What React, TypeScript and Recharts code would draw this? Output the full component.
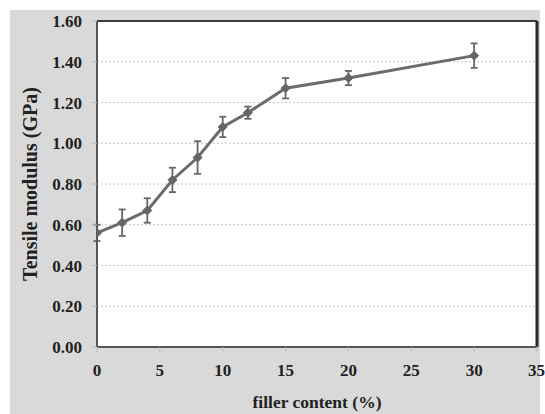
import React from 'react';
import { ComposedChart, Line, XAxis, YAxis, CartesianGrid, ErrorBar, ReferenceLine } from 'recharts';

const fillerContent = [0, 2, 4, 6, 8, 10, 12, 15, 20, 30];
const modulus = [0.56, 0.61, 0.67, 0.82, 0.93, 1.08, 1.15, 1.27, 1.32, 1.43];
const modulusError = [0.04, 0.065, 0.06, 0.06, 0.08, 0.05, 0.03, 0.05, 0.035, 0.06];
const xTicks = [0, 5, 10, 15, 20, 25, 30, 35];
const yTicks = [0, 0.2, 0.4, 0.6, 0.8, 1.0, 1.2, 1.4, 1.6];

const data = fillerContent.map((x, i) => ({ x, y: modulus[i], err: modulusError[i] }));

const FONT = '"Liberation Serif", "Times New Roman", serif';
const tickStyle = { fontFamily: FONT, fontSize: 17, fontWeight: 700, fill: '#222' };

const Diamond = (props: any) => {
  const { cx, cy } = props;
  if (cx == null || cy == null) return null;
  const r = 4.5;
  return (
    <polygon
      points={`${cx},${cy - r} ${cx + r},${cy} ${cx},${cy + r} ${cx - r},${cy}`}
      fill="#666"
      stroke="#666"
    />
  );
};

export default function App() {
  return (
    <div style={{ position: 'absolute', left: 0, top: 0, width: 545, height: 414 }}>
      <div style={{ position: 'absolute', left: 10, top: 10, width: 530, height: 404, background: '#d9d9d9' }} />
      <div style={{ position: 'absolute', left: 0, top: 0 }}>
        <ComposedChart width={545} height={414} data={data} margin={{ top: 21, right: 8, bottom: 27, left: 0 }}>
          <CartesianGrid fill="#fff" vertical={false} stroke="#c4c4c4" strokeDasharray="2 2" />
          <XAxis
            dataKey="x"
            type="number"
            domain={[0, 35]}
            ticks={xTicks}
            height={40}
            tick={tickStyle}
            tickSize={5}
            tickMargin={12}
            tickLine={{ stroke: '#bbb' }}
            axisLine={{ stroke: '#555', strokeWidth: 2 }}
            allowDataOverflow
            label={{ value: 'filler content (%)', position: 'bottom', offset: 9, style: { ...tickStyle, fontSize: 17.5 } }}
          />
          <YAxis
            type="number"
            domain={[0, 1.6]}
            ticks={yTicks}
            width={97}
            tick={tickStyle}
            tickSize={6}
            tickMargin={9}
            tickLine={{ stroke: '#bbb' }}
            axisLine={{ stroke: '#555', strokeWidth: 2 }}
            tickFormatter={(v: number) => v.toFixed(2)}
            label={{ value: 'Tensile modulus (GPa)', angle: -90, position: 'insideLeft', offset: 30, style: { ...tickStyle, fontSize: 20, textAnchor: 'middle' } }}
          />
          <ReferenceLine y={1.6} stroke="#3c3c3c" strokeWidth={2} />
          <ReferenceLine x={35} stroke="#2a2a2a" strokeWidth={3} />
          <Line
            dataKey="y"
            type="linear"
            stroke="#6b6b6b"
            strokeWidth={3}
            dot={<Diamond />}
            activeDot={false}
            isAnimationActive={false}
          >
            <ErrorBar dataKey="err" direction="y" width={3.5} stroke="#666" strokeWidth={1.8} />
          </Line>
        </ComposedChart>
      </div>
    </div>
  );
}
